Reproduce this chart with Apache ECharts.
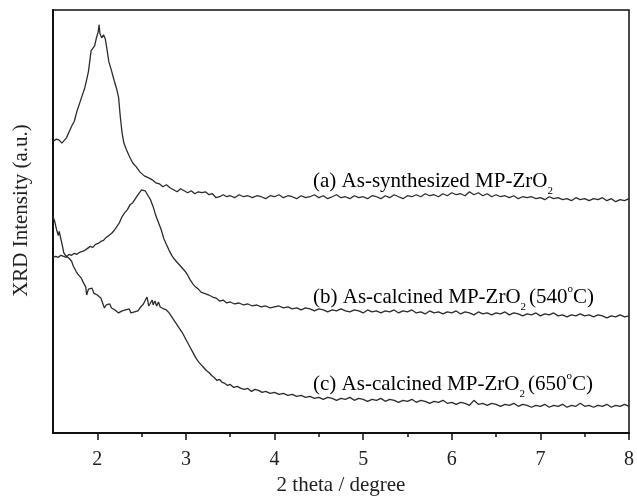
<!DOCTYPE html>
<html>
<head>
<meta charset="utf-8">
<script src="https://cdn.jsdelivr.net/npm/echarts@6/dist/echarts.min.js"></script>
<style>
  html, body { margin: 0; padding: 0; background: #fff; }
  #chart { width: 637px; height: 501px; }
</style>
</head>
<body>
<div id="chart"></div>
<script>
// 2 theta ticks
const majorTicks = [2, 3, 4, 5, 6, 7, 8]
const minorTicks = [2.5, 3.5, 4.5, 5.5, 6.5, 7.5]

// (a) as-synthesized
const curveA = [
  [1.50, 294], [1.54, 296], [1.57, 295], [1.60, 292], [1.62, 291], [1.65, 297], [1.68, 303], [1.71, 309],
  [1.74, 314], [1.77, 324], [1.80, 332], [1.83, 340], [1.86, 348], [1.88, 356], [1.90, 364], [1.92, 378],
  [1.93, 385], [1.95, 387], [1.97, 390], [1.99, 398], [2.01, 404], [2.02, 411], [2.03, 402], [2.05, 398],
  [2.07, 401], [2.09, 397], [2.11, 386], [2.13, 374], [2.16, 365], [2.19, 355], [2.22, 346], [2.24, 338],
  [2.26, 318], [2.28, 302], [2.30, 292], [2.33, 285], [2.36, 279], [2.40, 272], [2.44, 268], [2.48, 263],
  [2.53, 259], [2.58, 257], [2.62, 255], [2.66, 252], [2.70, 251], [2.74, 248], [2.78, 250], [2.82, 247],
  [2.86, 245], [2.90, 243], [2.94, 246], [2.98, 244], [3.02, 242], [3.06, 244], [3.10, 241], [3.14, 243],
  [3.18, 242], [3.22, 243], [3.26, 240], [3.30, 241], [3.34, 237], [3.38, 238], [3.42, 240], [3.46, 238],
  [3.50, 239], [3.55, 237], [3.60, 240], [3.65, 238], [3.70, 239], [3.75, 237], [3.80, 239], [3.85, 238],
  [3.90, 236], [3.95, 239], [4.00, 238], [4.05, 240], [4.10, 237], [4.15, 239], [4.20, 238], [4.25, 236],
  [4.30, 239], [4.35, 237], [4.40, 238], [4.45, 240], [4.50, 237], [4.55, 239], [4.60, 236], [4.65, 238],
  [4.70, 240], [4.75, 237], [4.80, 238], [4.85, 236], [4.90, 239], [4.95, 237], [5.00, 238], [5.05, 236],
  [5.10, 239], [5.15, 238], [5.20, 236], [5.25, 239], [5.30, 237], [5.35, 240], [5.40, 238], [5.45, 236],
  [5.50, 239], [5.55, 238], [5.60, 240], [5.65, 238], [5.70, 241], [5.75, 239], [5.80, 240], [5.85, 238],
  [5.90, 241], [5.95, 239], [6.00, 242], [6.05, 240], [6.10, 241], [6.15, 239], [6.20, 243], [6.25, 240],
  [6.30, 242], [6.35, 239], [6.40, 241], [6.45, 238], [6.50, 240], [6.55, 238], [6.60, 239], [6.65, 237],
  [6.70, 239], [6.75, 236], [6.80, 238], [6.85, 237], [6.90, 238], [6.95, 236], [7.00, 237], [7.05, 235],
  [7.10, 238], [7.15, 236], [7.20, 237], [7.25, 235], [7.30, 236], [7.35, 234], [7.40, 237], [7.45, 235],
  [7.50, 236], [7.55, 234], [7.60, 236], [7.65, 235], [7.70, 237], [7.75, 234], [7.80, 236], [7.85, 233],
  [7.90, 235], [7.95, 234], [8.00, 236]
]

// (b) calcined 540 C
const curveB = [
  [1.50, 177], [1.53, 178], [1.56, 177], [1.59, 179], [1.62, 178], [1.65, 177], [1.68, 180], [1.71, 179],
  [1.74, 181], [1.77, 180], [1.80, 182], [1.83, 183], [1.86, 184], [1.89, 186], [1.92, 188], [1.95, 187],
  [1.98, 190], [2.01, 191], [2.04, 193], [2.07, 194], [2.10, 197], [2.13, 199], [2.16, 201], [2.19, 204],
  [2.22, 208], [2.25, 212], [2.28, 218], [2.31, 222], [2.34, 225], [2.37, 230], [2.40, 232], [2.43, 236],
  [2.46, 240], [2.48, 242], [2.50, 245], [2.52, 243], [2.54, 244], [2.56, 241], [2.58, 238], [2.60, 235],
  [2.63, 228], [2.66, 219], [2.69, 212], [2.72, 205], [2.75, 196], [2.78, 190], [2.81, 184], [2.84, 179],
  [2.87, 175], [2.90, 172], [2.93, 169], [2.96, 166], [2.99, 163], [3.02, 159], [3.05, 154], [3.08, 150],
  [3.11, 147], [3.14, 145], [3.17, 142], [3.20, 141], [3.23, 140], [3.26, 139], [3.30, 137], [3.34, 136],
  [3.38, 133], [3.42, 134], [3.46, 131], [3.50, 132], [3.55, 130], [3.60, 131], [3.65, 129], [3.70, 130],
  [3.75, 128], [3.80, 129], [3.85, 127], [3.90, 128], [3.95, 126], [4.00, 127], [4.05, 128], [4.10, 126],
  [4.15, 127], [4.20, 125], [4.25, 126], [4.30, 124], [4.35, 126], [4.40, 125], [4.45, 123], [4.50, 125],
  [4.55, 124], [4.60, 122], [4.65, 124], [4.70, 123], [4.75, 125], [4.80, 123], [4.85, 122], [4.90, 124],
  [4.95, 123], [5.00, 121], [5.05, 124], [5.10, 122], [5.15, 123], [5.20, 121], [5.25, 123], [5.30, 122],
  [5.35, 124], [5.40, 121], [5.45, 123], [5.50, 122], [5.55, 124], [5.60, 121], [5.65, 122], [5.70, 120],
  [5.75, 123], [5.80, 121], [5.85, 122], [5.90, 120], [5.95, 122], [6.00, 121], [6.05, 123], [6.10, 120],
  [6.15, 122], [6.20, 121], [6.25, 119], [6.30, 122], [6.35, 120], [6.40, 121], [6.45, 119], [6.50, 121],
  [6.55, 120], [6.60, 122], [6.65, 119], [6.70, 121], [6.75, 120], [6.80, 118], [6.85, 120], [6.90, 119],
  [6.95, 121], [7.00, 118], [7.05, 120], [7.10, 119], [7.15, 121], [7.20, 118], [7.25, 119], [7.30, 117],
  [7.35, 119], [7.40, 118], [7.45, 120], [7.50, 118], [7.55, 119], [7.60, 117], [7.65, 119], [7.70, 118],
  [7.75, 116], [7.80, 118], [7.85, 117], [7.90, 119], [7.95, 117], [8.00, 118]
]

// (c) calcined 650 C
const curveC = [
  [1.50, 218], [1.52, 213], [1.53, 209], [1.54, 205], [1.55, 207], [1.56, 199], [1.57, 203], [1.59, 195],
  [1.61, 187], [1.62, 182], [1.64, 179], [1.66, 177], [1.68, 176], [1.71, 173], [1.73, 168], [1.76, 163],
  [1.78, 160], [1.80, 158], [1.82, 156], [1.84, 152], [1.85, 154], [1.87, 147], [1.88, 139], [1.89, 137],
  [1.90, 145], [1.92, 144], [1.94, 146], [1.96, 141], [1.98, 142], [2.00, 139], [2.02, 138], [2.04, 136],
  [2.06, 131], [2.08, 126], [2.10, 129], [2.12, 127], [2.14, 130], [2.16, 126], [2.18, 128], [2.20, 124],
  [2.22, 125], [2.24, 121], [2.26, 120], [2.28, 123], [2.30, 121], [2.32, 124], [2.34, 122], [2.36, 125],
  [2.38, 121], [2.40, 123], [2.42, 122], [2.44, 124], [2.46, 123], [2.48, 126], [2.50, 127], [2.52, 130],
  [2.54, 132], [2.56, 137], [2.57, 133], [2.58, 128], [2.60, 131], [2.62, 134], [2.63, 129], [2.65, 133],
  [2.67, 128], [2.69, 132], [2.71, 127], [2.73, 128], [2.75, 125], [2.78, 124], [2.81, 121], [2.84, 117],
  [2.87, 113], [2.90, 109], [2.93, 105], [2.96, 101], [2.99, 96], [3.02, 91], [3.05, 86], [3.08, 81],
  [3.11, 76], [3.14, 72], [3.17, 69], [3.20, 66], [3.23, 63], [3.26, 61], [3.29, 58], [3.32, 56],
  [3.35, 53], [3.38, 54], [3.41, 51], [3.44, 50], [3.47, 48], [3.50, 49], [3.54, 46], [3.58, 47],
  [3.62, 45], [3.66, 44], [3.70, 45], [3.74, 42], [3.78, 44], [3.82, 43], [3.86, 41], [3.90, 42],
  [3.95, 40], [4.00, 41], [4.05, 39], [4.10, 40], [4.15, 38], [4.20, 39], [4.25, 37], [4.30, 38],
  [4.35, 36], [4.40, 37], [4.45, 35], [4.50, 36], [4.55, 34], [4.60, 36], [4.65, 35], [4.70, 33],
  [4.75, 35], [4.80, 34], [4.85, 36], [4.90, 33], [4.95, 35], [5.00, 34], [5.05, 32], [5.10, 34],
  [5.15, 33], [5.20, 35], [5.25, 32], [5.30, 34], [5.35, 33], [5.40, 31], [5.45, 33], [5.50, 32],
  [5.55, 34], [5.60, 31], [5.65, 33], [5.70, 32], [5.75, 30], [5.80, 32], [5.85, 31], [5.90, 33],
  [5.95, 30], [6.00, 31], [6.05, 29], [6.10, 31], [6.15, 30], [6.20, 28], [6.25, 33], [6.30, 29],
  [6.35, 30], [6.40, 28], [6.45, 30], [6.50, 29], [6.55, 27], [6.60, 29], [6.65, 28], [6.70, 30],
  [6.75, 27], [6.80, 29], [6.85, 28], [6.90, 26], [6.95, 28], [7.00, 27], [7.05, 29], [7.10, 26],
  [7.15, 28], [7.20, 27], [7.25, 29], [7.30, 26], [7.35, 28], [7.40, 27], [7.45, 30], [7.50, 27],
  [7.55, 28], [7.60, 26], [7.65, 28], [7.70, 27], [7.75, 29], [7.80, 26], [7.85, 28], [7.90, 27],
  [7.95, 29], [8.00, 27]
]

const labelA = '{m|(a) As-synthesized MP-ZrO}{s|2}'
const labelB = '{m|(b) As-calcined MP-ZrO}{s|2}{m|(540}{p|o}{m|C)}'
const labelC = '{m|(c) As-calcined MP-ZrO}{s|2}{m|(650}{p|o}{m|C)}'

const font = 'Liberation Serif'
const ink = '#222'

const rich = {
  m: { fontFamily: font, fontSize: 21, color: ink, lineHeight: 34, verticalAlign: 'middle' },
  s: { fontFamily: font, fontSize: 11, color: ink, lineHeight: 12, verticalAlign: 'middle', padding: [20, 3, 0, 0] },
  p: { fontFamily: font, fontSize: 11, color: ink, lineHeight: 12, verticalAlign: 'middle', padding: [0, 0, 15, 0] }
}

function makeSeries(data) {
  return {
    type: 'line',
    data,
    showSymbol: false,
    symbol: 'none',
    lineStyle: { color: '#2b2b2b', width: 1.3 },
    silent: true
  }
}

function makeLabel(text, x, y) {
  return {
    type: 'text',
    x,
    y,
    style: { text, rich, verticalAlign: 'middle', align: 'left' }
  }
}

const chart = echarts.init(document.getElementById('chart'), null, { renderer: 'canvas' })

const option = {
  animation: false,
  backgroundColor: '#fff',
  grid: {
    left: 53,
    right: 7,
    top: 10,
    bottom: 65,
    show: true,
    borderColor: '#111',
    borderWidth: 1.5
  },
  xAxis: [{
    type: 'value',
    min: 1.5,
    max: 8,
    name: '2 theta / degree',
    nameLocation: 'middle',
    nameGap: 37,
    nameTextStyle: { fontFamily: font, fontSize: 21, color: ink },
    axisLine: { lineStyle: { color: '#111', width: 2 } },
    axisTick: { customValues: majorTicks, length: 7, lineStyle: { color: '#111', width: 1.5 } },
    axisLabel: { customValues: majorTicks, margin: 17, fontFamily: font, fontSize: 20, color: ink },
    splitLine: { show: false }
  }, {
    type: 'value',
    min: 1.5,
    max: 8,
    position: 'bottom',
    axisLine: { show: false },
    axisTick: { customValues: minorTicks, length: 4, lineStyle: { color: '#111', width: 1.5 } },
    axisLabel: { show: false },
    splitLine: { show: false }
  }],
  yAxis: {
    type: 'value',
    min: 0,
    max: 426,
    name: 'XRD Intensity (a.u.)',
    nameLocation: 'middle',
    nameGap: 21,
    nameTextStyle: { fontFamily: font, fontSize: 21, color: ink, padding: [0, 0, 0, 22] },
    axisLine: { show: true, lineStyle: { color: '#111', width: 2 } },
    axisTick: { show: false },
    axisLabel: { show: false },
    splitLine: { show: false }
  },
  series: [makeSeries(curveA), makeSeries(curveB), makeSeries(curveC)],
  graphic: [
    makeLabel(labelA, 313, 181),
    makeLabel(labelB, 313, 297),
    makeLabel(labelC, 313, 384)
  ]
}

chart.setOption(option)
</script>
</body>
</html>
